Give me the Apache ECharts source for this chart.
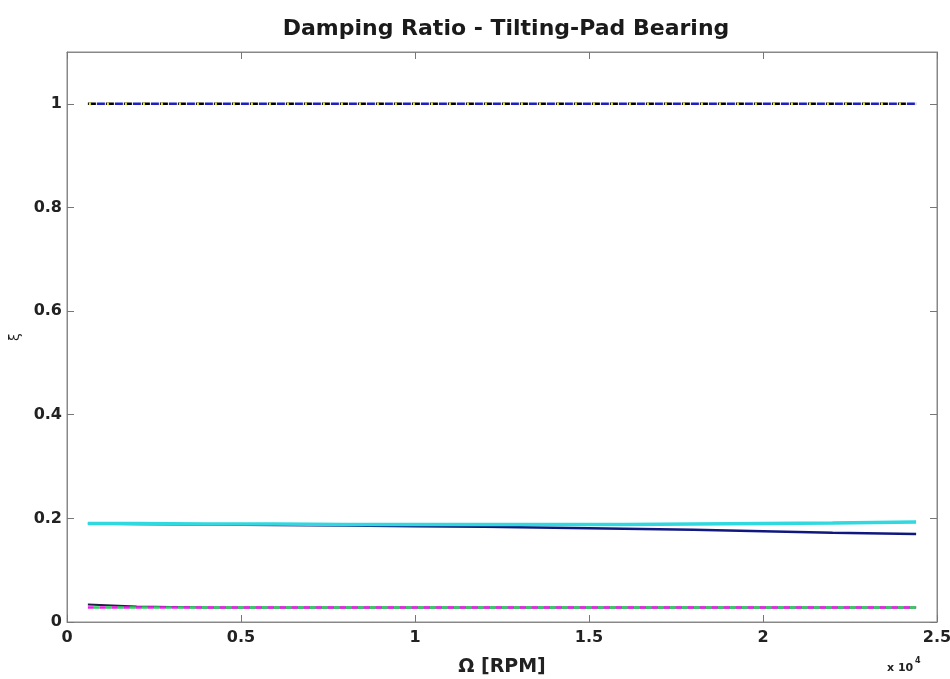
<!DOCTYPE html>
<html><head><meta charset="utf-8">
<script src="https://cdn.jsdelivr.net/npm/echarts@6/dist/echarts.min.js"></script>
<style>html,body{margin:0;padding:0;background:#fff}#c{width:950px;height:679px}</style>
</head><body><div id="c"></div>
<script>
const rpm = [600, 2000, 4000, 6000, 8000, 10000, 12000, 14000, 16000, 18000, 20000, 22000, 24400];
const critBlack  = [1, 1, 1, 1, 1, 1, 1, 1, 1, 1, 1, 1, 1];
const critBlue   = [1, 1, 1, 1, 1, 1, 1, 1, 1, 1, 1, 1, 1];
const critYellow = [1, 1, 1, 1, 1, 1, 1, 1, 1, 1, 1, 1, 1];
const modeCyan   = [0.190, 0.190, 0.189, 0.189, 0.188, 0.188, 0.188, 0.188, 0.188, 0.189, 0.190, 0.191, 0.193];
const modeNavy   = [0.190, 0.189, 0.188, 0.187, 0.186, 0.185, 0.184, 0.182, 0.180, 0.178, 0.175, 0.172, 0.170];
const modeDark   = [0.034, 0.030, 0.028, 0.028, 0.028, 0.028, 0.028, 0.028, 0.028, 0.028, 0.028, 0.028, 0.028];
const modeMagenta= [0.028, 0.028, 0.028, 0.028, 0.028, 0.028, 0.028, 0.028, 0.028, 0.028, 0.028, 0.028, 0.028];
const modeGreen  = [0.028, 0.028, 0.028, 0.028, 0.028, 0.028, 0.028, 0.028, 0.028, 0.028, 0.028, 0.028, 0.028];
const xTicks = ['0', '0.5', '1', '1.5', '2', '2.5'];
const yTicks = ['0', '0.2', '0.4', '0.6', '0.8', '1'];

const pairs = a => rpm.map((x, i) => [x, a[i]]);
const font = 'DejaVu Sans, Liberation Sans, sans-serif';
function line(name, data, color, width, type, offset, z) {
  return {name, type: 'line', data: pairs(data), showSymbol: false, symbol: 'none', z: z || 2,
    lineStyle: {color, width, type: type || 'solid', dashOffset: offset || 0}};
}
const axLine = {show: true, onZero: false, lineStyle: {color: '#888'}};
const tick = {show: true, inside: true, length: 7, lineStyle: {color: '#777', width: 1}};
const yTick = {show: true, inside: true, length: 7, lineStyle: {color: '#777', width: 1},
  customValues: [0, 0.2, 0.4, 0.6, 0.8, 1.0]};
const chart = echarts.init(document.getElementById('c'));
chart.setOption({
  animation: false,
  backgroundColor: '#fff',
  title: {text: 'Damping Ratio - Tilting-Pad Bearing', left: 501, top: 13, textAlign: 'center',
    textStyle: {fontFamily: font, fontSize: 22, fontWeight: 'bold', color: '#1a1a1a'}},
  grid: {left: 67, right: 13, top: 52, bottom: 57, show: true, borderColor: '#888', borderWidth: 1,
    outerBoundsMode: 'none', containLabel: false},
  xAxis: [{
    type: 'value', min: 0, max: 25000, interval: 5000,
    name: 'Ω [RPM]', nameLocation: 'middle', nameGap: 36,
    nameTextStyle: {fontFamily: font, fontSize: 19, fontWeight: 'bold', color: '#222'},
    axisLine: axLine, axisTick: tick, splitLine: {show: false},
    axisLabel: {fontFamily: font, fontSize: 16, fontWeight: 'bold', color: '#222', margin: 8,
      formatter: v => xTicks[Math.round(v / 5000)]}
  }, {
    type: 'value', min: 0, max: 25000, interval: 5000, position: 'top',
    axisLine: axLine, axisTick: tick,
    axisLabel: {show: false}, splitLine: {show: false}
  }],
  yAxis: [{
    type: 'value', min: 0, max: 1.1, interval: 0.2,
    name: 'ξ', nameLocation: 'middle', nameGap: 40, nameRotate: 90,
    nameTextStyle: {fontFamily: font, fontSize: 14, color: '#222'},
    axisLine: axLine, axisTick: yTick, splitLine: {show: false},
    axisLabel: {fontFamily: font, fontSize: 16, fontWeight: 'bold', color: '#222', margin: 5,
      showMaxLabel: false,
      formatter: v => { const i = Math.round(v / 0.2); return Math.abs(v - i * 0.2) < 1e-6 ? yTicks[i] : ''; }}
  }, {
    type: 'value', min: 0, max: 1.1, interval: 0.2, position: 'right',
    axisLine: axLine, axisTick: yTick,
    axisLabel: {show: false}, splitLine: {show: false}
  }],
  graphic: [
    {type: 'text', left: 887, top: 663, style: {text: 'x 10', font: 'bold 11px ' + font, fill: '#222'}},
    {type: 'text', left: 915, top: 657, style: {text: '4', font: 'bold 8px ' + font, fill: '#222'}}
  ],
  series: [
    line('b1', critBlack, '#000000', 2.5, [8, 10], 0, 3),
    line('b2', critBlue, '#2020c0', 2.5, [8, 10], 9, 3),
    line('b3', critYellow, '#e8ec30', 2.5, [2, 16], 17, 4),
    line('cyan', modeCyan, '#30d8e0', 3.5, 'solid', 0, 3),
    line('navy', modeNavy, '#101880', 2.5, 'solid', 0, 2),
    line('dark', modeDark, '#202040', 2, 'solid', 0, 2),
    line('magenta', modeMagenta, '#f020f0', 2.5, [6, 6], 0, 3),
    line('green', modeGreen, '#30d060', 2.5, [6, 6], 6, 3)
  ]
});
</script></body></html>
